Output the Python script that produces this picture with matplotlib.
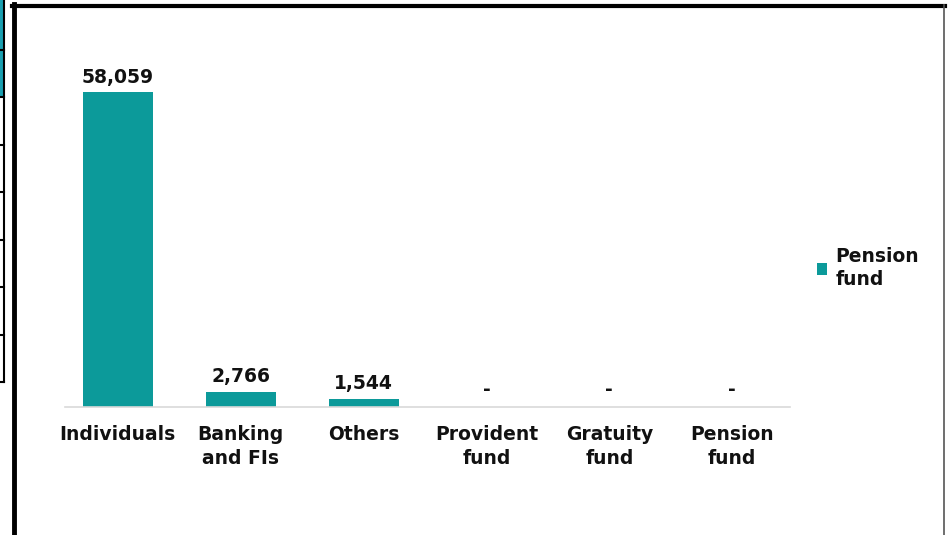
import matplotlib.pyplot as plt
from matplotlib.lines import Line2D
from matplotlib.patches import Rectangle

categories = ["Individuals", "Banking\nand FIs", "Others", "Provident\nfund", "Gratuity\nfund", "Pension\nfund"]
values = [58059, 2766, 1544, 0, 0, 0]
value_labels = ["58,059", "2,766", "1,544", "-", "-", "-"]
series_name = "Pension\nfund"

teal = "#0c9a9a"
txt = "#111111"
fs = 13.5

plt.rcParams['font.family'] = ['DejaVu Sans']
plt.rcParams['font.weight'] = 'bold'

fig = plt.figure(figsize=(9.5, 5.35), dpi=100)
ax = fig.add_axes([65 / 950, 1 - 407 / 535, (790 - 65) / 950, (407 - 30) / 535])

x = list(range(len(categories)))
bars = ax.bar(x, values, width=0.57, color=teal, label=series_name)
for xi, v, lab in zip(x, values, value_labels):
    off = 4 if lab != "-" else 6
    ax.annotate(lab, (xi, v), xytext=(0, off), textcoords="offset points",
                ha="center", va="bottom", fontsize=fs, fontweight="bold", color=txt)

ax.set_xlim(-0.43, 5.47)
ax.set_ylim(0, 69500)
ax.set_xticks(x)
ax.set_xticklabels(categories, fontsize=fs, fontweight="bold", color=txt, linespacing=1.3)
ax.tick_params(axis="x", length=0, pad=13)
ax.set_yticks([])
for s in ["top", "right", "left"]:
    ax.spines[s].set_visible(False)
ax.spines["bottom"].set_color("#d9d9d9")
ax.spines["bottom"].set_linewidth(1.2)

leg = fig.legend(handles=[bars], labels=[series_name], loc="center left",
                 bbox_to_anchor=(800 / 950, 1 - 268 / 535), frameon=False,
                 fontsize=fs, handlelength=0.55, handleheight=0.55, handletextpad=0.45,
                 labelspacing=0.2)
for t in leg.get_texts():
    t.set_fontweight("bold")
    t.set_color(txt)
    t.set_linespacing(1.3)

# outer frame
fig.add_artist(Line2D([14 / 950, 14 / 950], [0, 1 - 4 / 535], color="black", lw=3.5))
fig.add_artist(Line2D([12 / 950, 945 / 950], [1 - 5.5 / 535, 1 - 5.5 / 535], color="black", lw=3))
fig.add_artist(Line2D([944 / 950, 944 / 950], [0, 1 - 5 / 535], color="#555555", lw=1.2))

# table fragment on the left edge
fig.add_artist(Rectangle((0, 1 - 97 / 535), 3 / 950, 97 / 535, color="#1a9fb0", lw=0))
fig.add_artist(Line2D([4 / 950, 4 / 950], [1 - 382 / 535, 1], color="black", lw=1.5))
for yy in [50, 97, 145, 192, 240, 287, 335, 382]:
    fig.add_artist(Line2D([0, 4 / 950], [1 - yy / 535, 1 - yy / 535], color="black", lw=1.5))

fig.savefig("out.png", dpi=100)
